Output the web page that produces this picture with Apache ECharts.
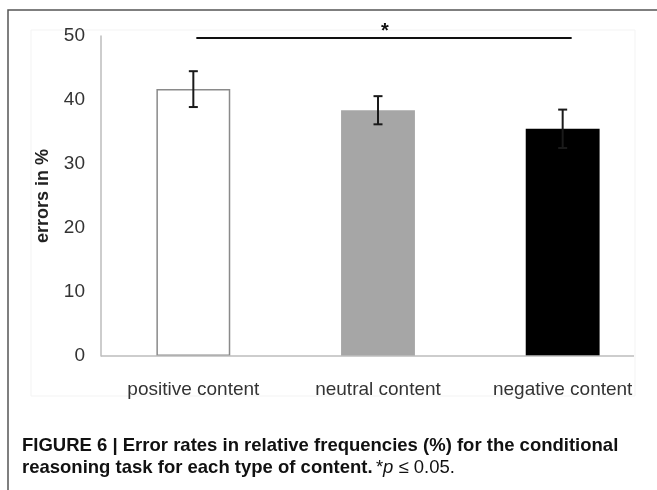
<!DOCTYPE html>
<html>
<head>
<meta charset="utf-8">
<script src="https://cdn.jsdelivr.net/npm/echarts@6/dist/echarts.min.js"></script>
<style>
html,body{margin:0;padding:0;background:#fff;}
#chart{width:657px;height:490px;}
</style>
</head>
<body>
<div id="chart"></div>
<script>
// ---- data ----
var categories = ['positive content', 'neutral content', 'negative content'];
var errorRates = [41.7, 38.4, 35.5];
var errorSE = [2.8, 2.2, 3.0];
var barColors = ['#ffffff', '#a6a6a6', '#000000'];
var yTicks = [0, 10, 20, 30, 40, 50];
var sigFrom = 0, sigTo = 2, sigLevel = 49.7, sigLabel = '*';

var chart = echarts.init(document.getElementById('chart'), null, {renderer: 'canvas'});
var FONT = '"Liberation Sans", Arial, sans-serif';
var CAPFONT = '18.5px "Liberation Sans", Arial, sans-serif';

var barData = errorRates.map(function (v, i) {
  return {
    value: v,
    itemStyle: {
      color: barColors[i],
      borderColor: i === 0 ? '#8a8a8a' : barColors[i],
      borderWidth: i === 0 ? 1.5 : 0
    }
  };
});
var errData = errorRates.map(function (v, i) { return [i, v - errorSE[i], v + errorSE[i]]; });

var frameGraphics = [
  {type: 'rect', shape: {x: 31, y: 30, width: 604, height: 366}, style: {fill: 'none', stroke: '#f3f3f3', lineWidth: 1}, z: -10, silent: true},
  {type: 'polyline', shape: {points: [[8, 490], [8, 10], [657, 10]]}, style: {stroke: '#555', lineWidth: 1.5, fill: 'none'}, z: 10},
  {
    type: 'text', left: 22, top: 436, z: 10,
    style: {
      text: '{b|FIGURE 6 | Error rates in relative frequencies (%) for the conditional}\n{b|reasoning task for each type of content.} {n|*}{i|p}{n| ≤ 0.05.}',
      rich: {
        b: {font: 'bold ' + CAPFONT, fill: '#111', lineHeight: 22},
        n: {font: CAPFONT, fill: '#111', lineHeight: 22},
        i: {font: 'italic ' + CAPFONT, fill: '#111', lineHeight: 22}
      }
    }
  }
];

var option = {
  animation: false,
  backgroundColor: '#ffffff',
  grid: {left: 101, right: 2, top: 36, bottom: 134, containLabel: false},
  xAxis: {
    type: 'category',
    data: categories,
    axisLine: {show: false},
    axisTick: {show: false},
    axisLabel: {color: '#333', fontSize: 19, fontFamily: FONT, margin: 24}
  },
  yAxis: {
    type: 'value',
    min: yTicks[0], max: yTicks[yTicks.length - 1], interval: 10,
    name: 'errors in %',
    nameLocation: 'middle',
    nameRotate: 90,
    nameGap: 49,
    nameTextStyle: {color: '#222', fontSize: 18, fontWeight: 'bold', fontFamily: FONT},
    axisLine: {show: true, lineStyle: {color: '#bdbdbd', width: 1.5}},
    axisTick: {show: false},
    splitLine: {show: false},
    axisLabel: {color: '#333', fontSize: 19, fontFamily: FONT, margin: 16}
  },
  series: [
    {
      type: 'bar',
      data: barData,
      barWidth: '40%'
    },
    {
      type: 'custom',
      data: errData,
      z: 5,
      renderItem: function (params, api) {
        var x = api.value(0);
        var lo = api.coord([x, api.value(1)]);
        var hi = api.coord([x, api.value(2)]);
        var hw = 4.5;
        var st = {stroke: '#1a1a1a', lineWidth: 2};
        return {
          type: 'group',
          children: [
            {type: 'line', shape: {x1: hi[0], y1: hi[1], x2: lo[0], y2: lo[1]}, style: st},
            {type: 'line', shape: {x1: hi[0] - hw, y1: hi[1], x2: hi[0] + hw, y2: hi[1]}, style: st},
            {type: 'line', shape: {x1: lo[0] - hw, y1: lo[1], x2: lo[0] + hw, y2: lo[1]}, style: st}
          ]
        };
      }
    },
    {
      type: 'custom',
      data: [[sigFrom, sigTo, sigLevel]],
      z: 5,
      renderItem: function (params, api) {
        var a = api.coord([api.value(0), api.value(2)]);
        var b = api.coord([api.value(1), api.value(2)]);
        return {
          type: 'group',
          children: [
            {type: 'line', shape: {x1: a[0] + 3, y1: a[1], x2: b[0] + 9, y2: b[1]}, style: {stroke: '#111', lineWidth: 2}},
            {type: 'text', style: {text: sigLabel, x: (a[0] + b[0]) / 2 + 7, y: a[1] - 6, align: 'center', verticalAlign: 'middle',
              font: 'bold 20px ' + FONT, fill: '#111'}}
          ]
        };
      }
    }
  ],
  graphic: frameGraphics
};
chart.setOption(option);

// x axis line: from grid left to the end of the plotted axis
var y0 = chart.convertToPixel({yAxisIndex: 0}, 0);
chart.setOption({
  graphic: frameGraphics.concat([
    {type: 'line', shape: {x1: 101, y1: y0, x2: 634, y2: y0}, style: {stroke: '#bdbdbd', lineWidth: 1.5}, z: 3}
  ])
});
</script>
</body>
</html>
